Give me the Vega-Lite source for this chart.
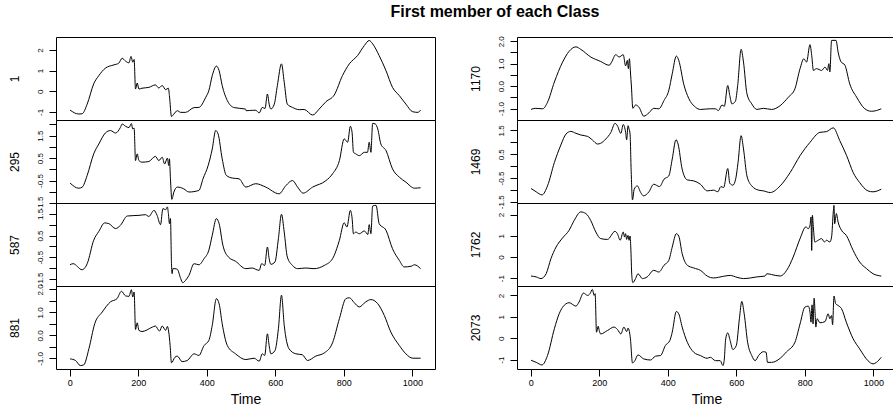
{
"$schema": "https://vega.github.io/schema/vega-lite/v6.json",
"padding": {"left": 7, "top": 4, "right": 0, "bottom": 0},
"title": {"text": "First member of each Class", "fontSize": 16, "fontWeight": "bold", "anchor": "middle", "offset": 15, "dx": 43, "color": "black", "font": "Liberation Sans"},
"datasets": {
"s1": [{"t":1,"v":-0.91},{"t":26,"v":-1.10},{"t":36,"v":-1.09},{"t":51,"v":-0.62},{"t":70,"v":0.36},{"t":85,"v":0.76},{"t":104,"v":1.12},{"t":129,"v":1.28},{"t":143,"v":1.36},{"t":153,"v":1.60},{"t":163,"v":1.46},{"t":173,"v":1.38},{"t":179,"v":1.69},{"t":184,"v":1.41},{"t":188,"v":1.54},{"t":192,"v":0.11},{"t":197,"v":0.40},{"t":202,"v":0.11},{"t":211,"v":0.15},{"t":231,"v":0.19},{"t":250,"v":0.31},{"t":260,"v":0.16},{"t":270,"v":0.28},{"t":280,"v":0.08},{"t":288,"v":0.15},{"t":291,"v":-0.21},{"t":297,"v":-1.22},{"t":304,"v":-1.10},{"t":314,"v":-0.94},{"t":324,"v":-1.02},{"t":338,"v":-1.02},{"t":363,"v":-0.79},{"t":377,"v":-0.78},{"t":397,"v":-0.29},{"t":406,"v":0.03},{"t":416,"v":0.76},{"t":428,"v":1.22},{"t":436,"v":1.0},{"t":445,"v":0.28},{"t":460,"v":-0.45},{"t":480,"v":-0.79},{"t":513,"v":-0.86},{"t":515,"v":-0.94},{"t":533,"v":-0.92},{"t":543,"v":-0.92},{"t":553,"v":-1.05},{"t":562,"v":-0.78},{"t":570,"v":-0.83},{"t":577,"v":-0.13},{"t":582,"v":-0.62},{"t":587,"v":-0.86},{"t":597,"v":-0.62},{"t":606,"v":0.28},{"t":618,"v":1.33},{"t":626,"v":0.44},{"t":635,"v":-0.62},{"t":650,"v":-0.78},{"t":670,"v":-0.89},{"t":684,"v":-0.88},{"t":709,"v":-1.15},{"t":728,"v":-0.86},{"t":748,"v":-0.50},{"t":772,"v":-0.18},{"t":796,"v":0.76},{"t":816,"v":1.33},{"t":840,"v":1.73},{"t":860,"v":2.22},{"t":874,"v":2.46},{"t":884,"v":2.30},{"t":903,"v":1.73},{"t":923,"v":1.0},{"t":942,"v":0.19},{"t":962,"v":-0.21},{"t":981,"v":-0.62},{"t":1001,"v":-0.99},{"t":1016,"v":-1.02},{"t":1024,"v":-0.91}],
"s2": [{"t":1,"v":-0.61},{"t":26,"v":-0.84},{"t":36,"v":-0.80},{"t":51,"v":-0.27},{"t":70,"v":0.69},{"t":85,"v":1.13},{"t":104,"v":1.62},{"t":119,"v":1.73},{"t":134,"v":1.62},{"t":148,"v":1.87},{"t":153,"v":2.02},{"t":163,"v":1.92},{"t":173,"v":1.86},{"t":180,"v":2.04},{"t":184,"v":1.80},{"t":188,"v":1.84},{"t":192,"v":0.39},{"t":197,"v":0.69},{"t":202,"v":0.39},{"t":211,"v":0.32},{"t":231,"v":0.35},{"t":250,"v":0.58},{"t":260,"v":0.39},{"t":270,"v":0.54},{"t":277,"v":0.24},{"t":285,"v":0.50},{"t":289,"v":0.17},{"t":291,"v":0.47},{"t":294,"v":-0.42},{"t":298,"v":-1.34},{"t":304,"v":-1.01},{"t":314,"v":-0.79},{"t":333,"v":-0.87},{"t":348,"v":-1.01},{"t":377,"v":-0.94},{"t":389,"v":-0.42},{"t":404,"v":0.17},{"t":416,"v":0.91},{"t":426,"v":1.73},{"t":433,"v":1.58},{"t":445,"v":0.47},{"t":457,"v":-0.27},{"t":475,"v":-0.39},{"t":494,"v":-0.42},{"t":514,"v":-0.79},{"t":543,"v":-0.64},{"t":572,"v":-0.79},{"t":611,"v":-1.09},{"t":631,"v":-0.72},{"t":650,"v":-0.50},{"t":665,"v":-0.79},{"t":681,"v":-1.06},{"t":709,"v":-0.79},{"t":748,"v":-0.50},{"t":767,"v":-0.20},{"t":787,"v":0.39},{"t":801,"v":1.36},{"t":811,"v":1.21},{"t":819,"v":1.92},{"t":824,"v":1.65},{"t":828,"v":0.76},{"t":835,"v":0.69},{"t":845,"v":0.61},{"t":860,"v":0.76},{"t":869,"v":0.76},{"t":874,"v":1.21},{"t":879,"v":0.76},{"t":884,"v":2.05},{"t":892,"v":2.02},{"t":899,"v":1.80},{"t":908,"v":1.13},{"t":923,"v":0.84},{"t":942,"v":0.02},{"t":962,"v":-0.35},{"t":981,"v":-0.57},{"t":1006,"v":-0.84},{"t":1024,"v":-0.82}],
"s3": [{"t":1,"v":-0.85},{"t":10,"v":-0.80},{"t":36,"v":-1.08},{"t":51,"v":-0.80},{"t":70,"v":0.28},{"t":85,"v":0.69},{"t":102,"v":1.08},{"t":114,"v":1.05},{"t":134,"v":0.82},{"t":148,"v":0.97},{"t":168,"v":1.40},{"t":202,"v":1.43},{"t":221,"v":1.46},{"t":231,"v":1.38},{"t":246,"v":1.66},{"t":255,"v":1.43},{"t":265,"v":1.0},{"t":272,"v":1.74},{"t":280,"v":1.69},{"t":285,"v":1.82},{"t":288,"v":1.51},{"t":291,"v":1.05},{"t":294,"v":1.28},{"t":297,"v":-0.80},{"t":299,"v":-1.26},{"t":301,"v":-1.03},{"t":307,"v":-1.03},{"t":314,"v":-1.06},{"t":324,"v":-1.49},{"t":330,"v":-1.68},{"t":338,"v":-1.57},{"t":348,"v":-1.34},{"t":363,"v":-0.80},{"t":377,"v":-0.85},{"t":392,"v":-0.57},{"t":406,"v":-0.18},{"t":416,"v":0.51},{"t":428,"v":1.28},{"t":436,"v":1.05},{"t":447,"v":0.05},{"t":463,"v":-0.49},{"t":484,"v":-0.69},{"t":514,"v":-1.03},{"t":533,"v":-1.0},{"t":543,"v":-1.06},{"t":553,"v":-1.11},{"t":560,"v":-0.80},{"t":569,"v":-0.88},{"t":577,"v":-0.03},{"t":582,"v":-0.57},{"t":587,"v":-0.83},{"t":599,"v":-0.72},{"t":609,"v":0.35},{"t":618,"v":1.48},{"t":626,"v":0.66},{"t":635,"v":-0.49},{"t":650,"v":-0.88},{"t":665,"v":-1.03},{"t":689,"v":-1.0},{"t":713,"v":-1.03},{"t":743,"v":-0.88},{"t":767,"v":-0.57},{"t":787,"v":0.28},{"t":801,"v":1.09},{"t":809,"v":0.89},{"t":819,"v":1.66},{"t":824,"v":1.31},{"t":828,"v":0.58},{"t":835,"v":0.66},{"t":845,"v":0.58},{"t":860,"v":0.71},{"t":870,"v":0.55},{"t":874,"v":1.0},{"t":879,"v":0.58},{"t":884,"v":1.86},{"t":894,"v":1.89},{"t":903,"v":1.05},{"t":923,"v":0.74},{"t":942,"v":-0.11},{"t":962,"v":-0.65},{"t":976,"v":-0.95},{"t":996,"v":-0.92},{"t":1006,"v":-0.85},{"t":1024,"v":-1.03}],
"s4": [{"t":1,"v":-1.02},{"t":17,"v":-1.09},{"t":31,"v":-1.31},{"t":41,"v":-1.28},{"t":56,"v":-0.58},{"t":73,"v":0.51},{"t":95,"v":1.02},{"t":119,"v":1.46},{"t":138,"v":1.60},{"t":151,"v":1.92},{"t":163,"v":1.72},{"t":173,"v":1.70},{"t":180,"v":1.99},{"t":184,"v":1.67},{"t":188,"v":1.89},{"t":192,"v":0.26},{"t":197,"v":0.55},{"t":202,"v":0.22},{"t":211,"v":0.17},{"t":241,"v":0.36},{"t":250,"v":0.41},{"t":262,"v":0.19},{"t":270,"v":0.41},{"t":280,"v":0.22},{"t":285,"v":0.39},{"t":289,"v":0.15},{"t":293,"v":-0.44},{"t":297,"v":-1.19},{"t":307,"v":-0.95},{"t":314,"v":-0.90},{"t":328,"v":-1.14},{"t":343,"v":-1.09},{"t":363,"v":-0.80},{"t":377,"v":-0.87},{"t":392,"v":-0.44},{"t":406,"v":-0.22},{"t":416,"v":0.44},{"t":428,"v":1.60},{"t":436,"v":1.38},{"t":445,"v":0.51},{"t":460,"v":-0.44},{"t":484,"v":-0.80},{"t":514,"v":-1.05},{"t":538,"v":-0.99},{"t":553,"v":-1.12},{"t":562,"v":-0.80},{"t":569,"v":-0.87},{"t":577,"v":0.07},{"t":582,"v":-0.44},{"t":587,"v":-0.80},{"t":599,"v":-0.66},{"t":609,"v":0.29},{"t":618,"v":1.75},{"t":626,"v":0.44},{"t":640,"v":-0.58},{"t":660,"v":-0.80},{"t":679,"v":-0.84},{"t":694,"v":-1.09},{"t":718,"v":-0.90},{"t":743,"v":-0.76},{"t":767,"v":-0.32},{"t":787,"v":0.73},{"t":806,"v":1.60},{"t":816,"v":1.64},{"t":830,"v":1.43},{"t":845,"v":1.24},{"t":864,"v":1.46},{"t":879,"v":1.56},{"t":899,"v":1.38},{"t":918,"v":0.87},{"t":937,"v":0.15},{"t":962,"v":-0.44},{"t":981,"v":-0.80},{"t":1001,"v":-0.99},{"t":1024,"v":-0.99}],
"s5": [{"t":1,"v":-1.04},{"t":13,"v":-0.99},{"t":35,"v":-1.01},{"t":49,"v":-0.72},{"t":69,"v":0.18},{"t":93,"v":1.07},{"t":112,"v":1.55},{"t":132,"v":1.75},{"t":146,"v":1.64},{"t":175,"v":1.30},{"t":204,"v":1.10},{"t":229,"v":0.93},{"t":236,"v":1.07},{"t":248,"v":1.40},{"t":258,"v":1.30},{"t":270,"v":1.40},{"t":277,"v":0.90},{"t":282,"v":1.15},{"t":285,"v":0.78},{"t":288,"v":1.22},{"t":291,"v":0.63},{"t":294,"v":-0.04},{"t":298,"v":-0.99},{"t":306,"v":-0.84},{"t":316,"v":-0.94},{"t":330,"v":-1.34},{"t":345,"v":-1.19},{"t":359,"v":-0.99},{"t":374,"v":-1.01},{"t":389,"v":-0.64},{"t":403,"v":-0.19},{"t":413,"v":0.55},{"t":425,"v":1.34},{"t":432,"v":1.15},{"t":447,"v":0.06},{"t":461,"v":-0.54},{"t":481,"v":-0.94},{"t":495,"v":-1.04},{"t":524,"v":-1.01},{"t":539,"v":-1.01},{"t":548,"v":-1.09},{"t":558,"v":-0.84},{"t":565,"v":-0.90},{"t":575,"v":0.03},{"t":581,"v":-0.42},{"t":587,"v":-0.79},{"t":597,"v":-0.69},{"t":604,"v":0.03},{"t":614,"v":1.64},{"t":621,"v":1.07},{"t":631,"v":-0.34},{"t":645,"v":-0.79},{"t":660,"v":-1.04},{"t":679,"v":-0.99},{"t":703,"v":-1.04},{"t":728,"v":-0.87},{"t":752,"v":-0.49},{"t":771,"v":-0.12},{"t":786,"v":0.78},{"t":797,"v":1.22},{"t":805,"v":1.07},{"t":815,"v":1.85},{"t":820,"v":1.37},{"t":825,"v":0.70},{"t":834,"v":0.78},{"t":849,"v":0.70},{"t":859,"v":0.85},{"t":866,"v":0.70},{"t":870,"v":1.00},{"t":873,"v":0.63},{"t":878,"v":2.04},{"t":891,"v":2.04},{"t":897,"v":1.52},{"t":905,"v":1.10},{"t":917,"v":0.93},{"t":931,"v":0.10},{"t":951,"v":-0.49},{"t":975,"v":-1.01},{"t":994,"v":-1.12},{"t":1009,"v":-1.09},{"t":1023,"v":-1.01}],
"s6": [{"t":1,"v":-0.94},{"t":16,"v":-1.08},{"t":33,"v":-1.21},{"t":49,"v":-0.83},{"t":69,"v":0.15},{"t":88,"v":0.89},{"t":103,"v":1.35},{"t":117,"v":1.46},{"t":132,"v":1.38},{"t":146,"v":1.31},{"t":166,"v":1.25},{"t":180,"v":1.10},{"t":195,"v":0.93},{"t":204,"v":0.96},{"t":219,"v":1.14},{"t":234,"v":1.42},{"t":246,"v":1.80},{"t":253,"v":1.70},{"t":263,"v":1.38},{"t":270,"v":1.75},{"t":277,"v":1.42},{"t":280,"v":1.11},{"t":284,"v":1.70},{"t":287,"v":1.56},{"t":290,"v":1.35},{"t":293,"v":-0.13},{"t":297,"v":-1.42},{"t":302,"v":-0.97},{"t":311,"v":-0.83},{"t":321,"v":-1.11},{"t":329,"v":-1.25},{"t":345,"v":-1.08},{"t":359,"v":-0.76},{"t":376,"v":-0.86},{"t":389,"v":-0.55},{"t":403,"v":-0.41},{"t":413,"v":0.30},{"t":424,"v":1.11},{"t":430,"v":0.93},{"t":442,"v":-0.13},{"t":457,"v":-0.58},{"t":476,"v":-0.62},{"t":495,"v":-0.76},{"t":515,"v":-1.04},{"t":534,"v":-1.01},{"t":546,"v":-1.08},{"t":555,"v":-0.86},{"t":563,"v":-0.90},{"t":575,"v":-0.10},{"t":581,"v":-0.72},{"t":590,"v":-0.80},{"t":598,"v":-0.55},{"t":605,"v":0.15},{"t":614,"v":1.28},{"t":621,"v":0.72},{"t":631,"v":-0.41},{"t":645,"v":-0.83},{"t":665,"v":-1.01},{"t":679,"v":-1.04},{"t":699,"v":-1.11},{"t":728,"v":-0.83},{"t":757,"v":-0.27},{"t":786,"v":0.44},{"t":815,"v":1.00},{"t":844,"v":1.42},{"t":863,"v":1.45},{"t":883,"v":1.61},{"t":902,"v":1.07},{"t":922,"v":0.44},{"t":941,"v":-0.27},{"t":960,"v":-0.69},{"t":984,"v":-1.04},{"t":999,"v":-1.08},{"t":1023,"v":-0.97}],
"s7": [{"t":1,"v":-0.90},{"t":16,"v":-0.94},{"t":30,"v":-1.02},{"t":45,"v":-0.79},{"t":59,"v":-0.08},{"t":74,"v":0.47},{"t":93,"v":0.90},{"t":112,"v":1.26},{"t":127,"v":1.73},{"t":146,"v":2.13},{"t":161,"v":2.05},{"t":175,"v":1.73},{"t":190,"v":1.18},{"t":204,"v":0.87},{"t":224,"v":0.83},{"t":246,"v":1.21},{"t":253,"v":1.10},{"t":261,"v":0.79},{"t":270,"v":1.18},{"t":274,"v":0.94},{"t":277,"v":1.10},{"t":280,"v":0.83},{"t":284,"v":1.02},{"t":287,"v":0.79},{"t":290,"v":0.99},{"t":292,"v":0.47},{"t":295,"v":-0.87},{"t":298,"v":-1.21},{"t":306,"v":-1.02},{"t":313,"v":-0.79},{"t":326,"v":-1.02},{"t":340,"v":-0.94},{"t":359,"v":-0.63},{"t":374,"v":-0.71},{"t":389,"v":-0.39},{"t":403,"v":-0.16},{"t":413,"v":0.47},{"t":425,"v":1.10},{"t":432,"v":0.99},{"t":442,"v":0.16},{"t":457,"v":-0.39},{"t":476,"v":-0.52},{"t":495,"v":-0.63},{"t":515,"v":-0.90},{"t":534,"v":-0.99},{"t":563,"v":-0.91},{"t":582,"v":-0.87},{"t":602,"v":-0.96},{"t":621,"v":-1.02},{"t":641,"v":-0.99},{"t":660,"v":-0.94},{"t":684,"v":-0.90},{"t":689,"v":-0.79},{"t":703,"v":-0.83},{"t":728,"v":-0.90},{"t":747,"v":-0.63},{"t":766,"v":0.0},{"t":786,"v":0.87},{"t":803,"v":1.42},{"t":810,"v":1.34},{"t":815,"v":1.50},{"t":818,"v":1.89},{"t":820,"v":0.31},{"t":822,"v":1.97},{"t":825,"v":1.37},{"t":829,"v":0.71},{"t":839,"v":0.79},{"t":849,"v":0.87},{"t":857,"v":0.71},{"t":863,"v":0.79},{"t":873,"v":0.71},{"t":878,"v":0.94},{"t":883,"v":2.13},{"t":885,"v":2.44},{"t":887,"v":1.57},{"t":892,"v":2.05},{"t":897,"v":1.65},{"t":907,"v":1.26},{"t":921,"v":1.02},{"t":941,"v":0.31},{"t":960,"v":-0.24},{"t":980,"v":-0.55},{"t":999,"v":-0.79},{"t":1023,"v":-0.90}],
"s8": [{"t":1,"v":-1.03},{"t":16,"v":-1.13},{"t":33,"v":-1.25},{"t":49,"v":-0.81},{"t":69,"v":0.44},{"t":83,"v":1.14},{"t":103,"v":1.61},{"t":112,"v":1.66},{"t":132,"v":1.50},{"t":141,"v":1.69},{"t":154,"v":2.11},{"t":166,"v":2.0},{"t":173,"v":2.08},{"t":180,"v":2.28},{"t":185,"v":2.0},{"t":188,"v":2.08},{"t":192,"v":0.28},{"t":197,"v":0.56},{"t":200,"v":0.36},{"t":204,"v":0.20},{"t":224,"v":0.36},{"t":243,"v":0.52},{"t":253,"v":0.41},{"t":263,"v":0.20},{"t":272,"v":0.52},{"t":280,"v":0.31},{"t":284,"v":0.47},{"t":288,"v":0.31},{"t":291,"v":-0.03},{"t":297,"v":-1.16},{"t":304,"v":-1.05},{"t":313,"v":-0.78},{"t":330,"v":-0.97},{"t":350,"v":-1.02},{"t":364,"v":-0.84},{"t":379,"v":-0.81},{"t":393,"v":-0.34},{"t":406,"v":-0.11},{"t":413,"v":0.28},{"t":425,"v":1.25},{"t":432,"v":1.14},{"t":442,"v":0.52},{"t":457,"v":-0.19},{"t":476,"v":-0.66},{"t":495,"v":-0.81},{"t":515,"v":-0.94},{"t":524,"v":-0.89},{"t":539,"v":-1.05},{"t":553,"v":-1.05},{"t":561,"v":-1.28},{"t":565,"v":-0.97},{"t":569,"v":-0.03},{"t":575,"v":0.25},{"t":582,"v":-0.11},{"t":590,"v":-0.53},{"t":600,"v":-0.34},{"t":609,"v":0.91},{"t":616,"v":1.72},{"t":623,"v":1.14},{"t":633,"v":-0.19},{"t":645,"v":-0.81},{"t":655,"v":-1.05},{"t":665,"v":-0.81},{"t":679,"v":-0.63},{"t":687,"v":-0.66},{"t":691,"v":-1.13},{"t":703,"v":-1.13},{"t":728,"v":-0.94},{"t":747,"v":-0.63},{"t":771,"v":-0.19},{"t":786,"v":0.67},{"t":800,"v":1.45},{"t":810,"v":1.50},{"t":815,"v":1.22},{"t":818,"v":0.75},{"t":821,"v":1.56},{"t":824,"v":0.67},{"t":827,"v":1.87},{"t":830,"v":1.14},{"t":832,"v":0.52},{"t":836,"v":0.91},{"t":844,"v":0.72},{"t":859,"v":0.78},{"t":868,"v":1.14},{"t":873,"v":0.91},{"t":878,"v":1.06},{"t":881,"v":0.63},{"t":885,"v":1.97},{"t":890,"v":1.61},{"t":897,"v":1.53},{"t":907,"v":1.38},{"t":921,"v":0.75},{"t":941,"v":-0.03},{"t":960,"v":-0.50},{"t":984,"v":-1.05},{"t":999,"v":-1.20},{"t":1009,"v":-1.13},{"t":1023,"v":-0.89}]
},
"hconcat": [
{"vconcat": [
{"data": {"name": "s1"}, "width": 379, "height": 83, "mark": {"type": "line", "interpolate": "monotone", "color": "black", "strokeWidth": 1, "clip": true},
 "encoding": {"x": {"field": "t", "type": "quantitative", "scale": {"domain": [-40, 1066], "nice": false, "zero": false}, "axis": null},
  "y": {"field": "v", "type": "quantitative", "scale": {"domain": [-1.39, 2.63], "nice": false, "zero": false}, "axis": {"title": "1", "values": [-1,0,1,2], "labelExpr": "toString(datum.value)"}}}},
{"data": {"name": "s2"}, "width": 379, "height": 83, "mark": {"type": "line", "interpolate": "monotone", "color": "black", "strokeWidth": 1, "clip": true},
 "encoding": {"x": {"field": "t", "type": "quantitative", "scale": {"domain": [-40, 1066], "nice": false, "zero": false}, "axis": null},
  "y": {"field": "v", "type": "quantitative", "scale": {"domain": [-1.5, 2.2], "nice": false, "zero": false}, "axis": {"title": "295", "values": [-1.5,-1,-0.5,0,0.5,1,1.5,2], "labelExpr": "abs((datum.value*2) % 2) == 1 ? toString(datum.value) : ''"}}}},
{"data": {"name": "s3"}, "width": 379, "height": 83, "mark": {"type": "line", "interpolate": "monotone", "color": "black", "strokeWidth": 1, "clip": true},
 "encoding": {"x": {"field": "t", "type": "quantitative", "scale": {"domain": [-40, 1066], "nice": false, "zero": false}, "axis": null},
  "y": {"field": "v", "type": "quantitative", "scale": {"domain": [-1.83, 2.0], "nice": false, "zero": false}, "axis": {"title": "587", "values": [-1.5,-1,-0.5,0,0.5,1,1.5], "labelExpr": "abs((datum.value*2) % 2) == 1 ? toString(datum.value) : ''"}}}},
{"data": {"name": "s4"}, "width": 379, "height": 83, "mark": {"type": "line", "interpolate": "monotone", "color": "black", "strokeWidth": 1, "clip": true},
 "encoding": {"x": {"field": "t", "type": "quantitative", "scale": {"domain": [-40, 1066], "nice": false, "zero": false}, "axis": {"title": "Time", "values": [0,200,400,600,800,1000], "format": "d"}},
  "y": {"field": "v", "type": "quantitative", "scale": {"domain": [-1.46, 2.15], "nice": false, "zero": false}, "axis": {"title": "881", "values": [-1,-0.5,0,0.5,1,1.5,2], "labelExpr": "datum.value == 2 ? '2.0' : datum.value == 1 ? '1.0' : datum.value == 0 ? '0.0' : datum.value == -1 ? '-1.0' : ''"}}}}
], "spacing": 0, "bounds": "flush", "resolve": {"scale": {"x": "independent", "y": "independent"}}},
{"vconcat": [
{"data": {"name": "s5"}, "width": 379, "height": 83, "mark": {"type": "line", "interpolate": "monotone", "color": "black", "strokeWidth": 1, "clip": true},
 "encoding": {"x": {"field": "t", "type": "quantitative", "scale": {"domain": [-40, 1066], "nice": false, "zero": false}, "axis": null},
  "y": {"field": "v", "type": "quantitative", "scale": {"domain": [-1.51, 2.19], "nice": false, "zero": false}, "axis": {"title": "1170", "values": [-1,-0.5,0,0.5,1,1.5,2], "labelExpr": "datum.value == 2 ? '2.0' : datum.value == 1 ? '1.0' : datum.value == 0 ? '0.0' : datum.value == -1 ? '-1.0' : ''"}}}},
{"data": {"name": "s6"}, "width": 379, "height": 83, "mark": {"type": "line", "interpolate": "monotone", "color": "black", "strokeWidth": 1, "clip": true},
 "encoding": {"x": {"field": "t", "type": "quantitative", "scale": {"domain": [-40, 1066], "nice": false, "zero": false}, "axis": null},
  "y": {"field": "v", "type": "quantitative", "scale": {"domain": [-1.55, 1.94], "nice": false, "zero": false}, "axis": {"title": "1469", "values": [-1.5,-1,-0.5,0,0.5,1,1.5], "labelExpr": "abs((datum.value*2) % 2) == 1 ? toString(datum.value) : ''"}}}},
{"data": {"name": "s7"}, "width": 379, "height": 83, "mark": {"type": "line", "interpolate": "monotone", "color": "black", "strokeWidth": 1, "clip": true},
 "encoding": {"x": {"field": "t", "type": "quantitative", "scale": {"domain": [-40, 1066], "nice": false, "zero": false}, "axis": null},
  "y": {"field": "v", "type": "quantitative", "scale": {"domain": [-1.37, 2.55], "nice": false, "zero": false}, "axis": {"title": "1762", "values": [-1,0,1,2], "labelExpr": "toString(datum.value)"}}}},
{"data": {"name": "s8"}, "width": 379, "height": 83, "mark": {"type": "line", "interpolate": "monotone", "color": "black", "strokeWidth": 1, "clip": true},
 "encoding": {"x": {"field": "t", "type": "quantitative", "scale": {"domain": [-40, 1066], "nice": false, "zero": false}, "axis": {"title": "Time", "values": [0,200,400,600,800,1000], "format": "d"}},
  "y": {"field": "v", "type": "quantitative", "scale": {"domain": [-1.44, 2.44], "nice": false, "zero": false}, "axis": {"title": "2073", "values": [-1,0,1,2], "labelExpr": "toString(datum.value)"}}}}
], "spacing": 0, "bounds": "flush", "resolve": {"scale": {"x": "independent", "y": "independent"}}}
],
"spacing": 32,
"resolve": {"scale": {"x": "independent", "y": "independent"}},
"config": {
 "font": "Liberation Sans",
 "background": "white",
 "view": {"stroke": "black", "strokeWidth": 1},
 "axis": {"grid": false, "domain": false, "tickColor": "black", "labelColor": "black", "titleColor": "black", "tickSize": 7, "labelFontSize": 8, "titleFontWeight": "normal", "labelOverlap": false, "labelFlush": false},
 "axisY": {"labelAngle": -90, "labelAlign": "center", "labelBaseline": "bottom", "labelPadding": 5, "minExtent": 20, "maxExtent": 20, "titlePadding": 15, "titleFontSize": 12},
 "axisX": {"labelFontSize": 9, "labelPadding": 2, "titleFontSize": 14, "titlePadding": 5}
}
}
